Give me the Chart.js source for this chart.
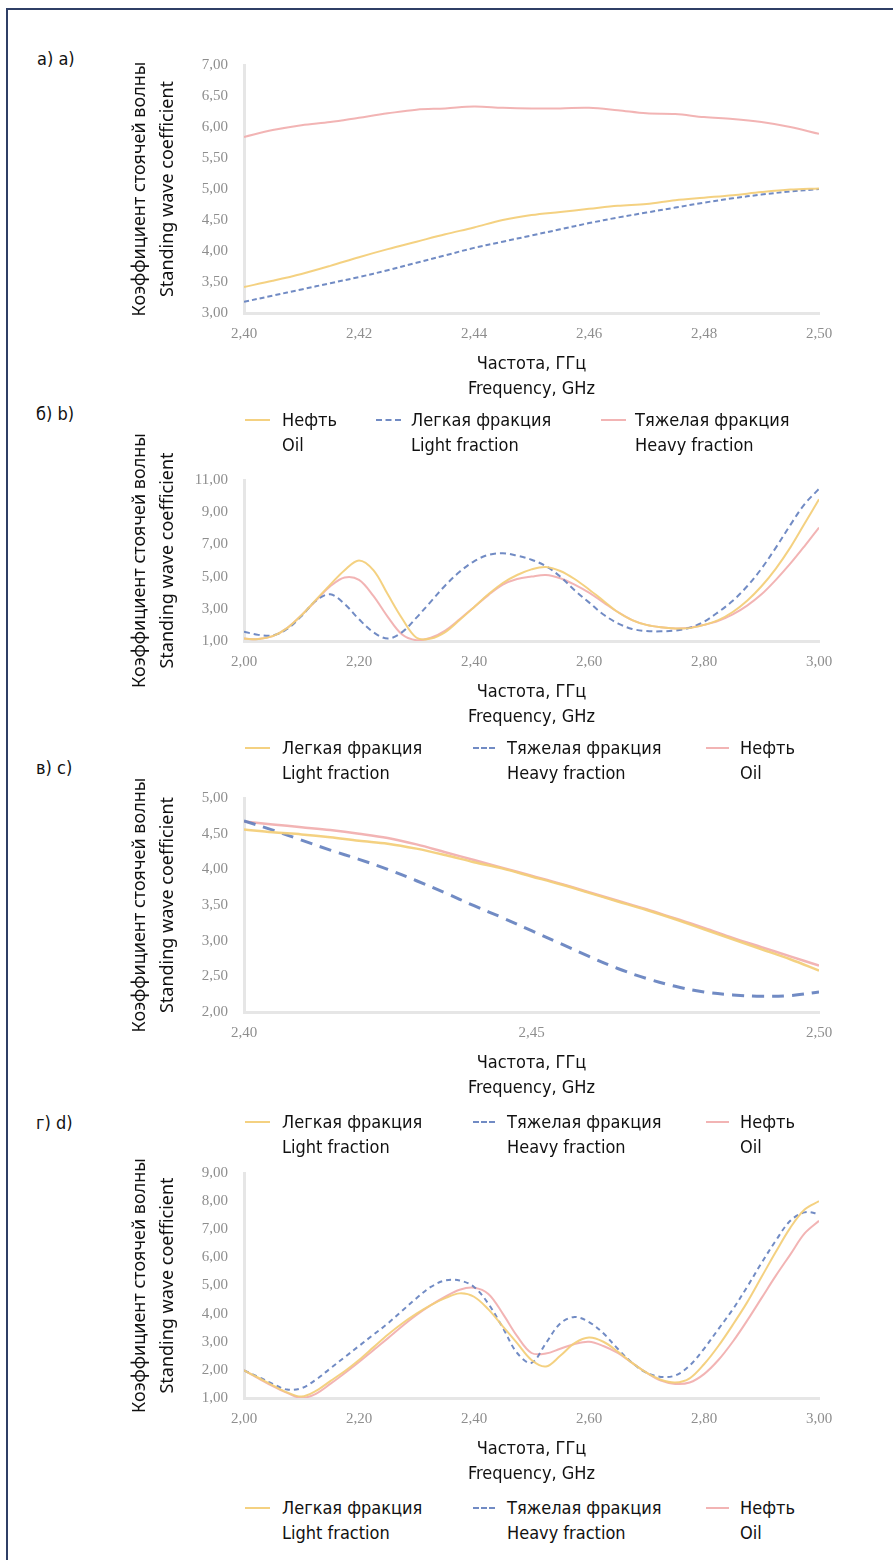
<!DOCTYPE html>
<html>
<head>
<meta charset="utf-8">
<script src="https://cdn.jsdelivr.net/npm/chart.js@4.4.1/dist/chart.umd.min.js"></script>
<style>
  body { margin: 0; background: #fff; }
  #page { position: relative; width: 893px; height: 1560px; overflow: hidden; background: #fff; }
  #frame { position: absolute; left: 6px; top: 8px; width: 1000px; height: 1700px;
           border-top: 2px solid #2f3f66; border-left: 2px solid #2f3f66; }
  canvas { position: absolute; }
  .txt { position: absolute; font-family: 'DejaVu Sans Condensed', 'Liberation Sans Narrow', sans-serif;
         font-size: 18px; line-height: 25px; color: #111; white-space: nowrap; }
  .swatch { position: absolute; height: 0; }
</style>
</head>
<body>
<div id="page">
  <div id="frame"></div>
  <canvas id="chartA" width="783" height="363" style="left:110px; top:40px;"></canvas>
  <canvas id="chartB" width="783" height="311" style="left:110px; top:420px;"></canvas>
  <canvas id="chartC" width="783" height="334" style="left:110px; top:768px;"></canvas>
  <canvas id="chartD" width="783" height="340" style="left:110px; top:1148px;"></canvas>
</div>
<script>
// Panel a) - frequency 2.40..2.50 GHz
const freqA = [2.400, 2.405, 2.410, 2.415, 2.420, 2.425, 2.430, 2.435, 2.440, 2.445, 2.450,
               2.455, 2.460, 2.465, 2.470, 2.475, 2.480, 2.485, 2.490, 2.495, 2.500];
const oilA   = [3.42, 3.52, 3.63, 3.76, 3.90, 4.03, 4.15, 4.27, 4.38, 4.50, 4.58,
                4.63, 4.68, 4.73, 4.76, 4.82, 4.86, 4.90, 4.95, 4.99, 5.01];
const lightA = [3.18, 3.28, 3.38, 3.48, 3.58, 3.69, 3.81, 3.93, 4.05, 4.15, 4.25,
                4.35, 4.45, 4.54, 4.62, 4.70, 4.78, 4.85, 4.91, 4.96, 5.00];
const heavyA = [5.84, 5.95, 6.03, 6.08, 6.15, 6.22, 6.28, 6.30, 6.33, 6.31, 6.30,
                6.30, 6.31, 6.27, 6.22, 6.21, 6.16, 6.13, 6.08, 6.00, 5.89];

// Panels b) and d) - frequency 2.00..3.00 GHz
const freqBD = [2.000, 2.025, 2.050, 2.075, 2.100, 2.125, 2.150, 2.175, 2.200, 2.225, 2.250,
                2.275, 2.300, 2.325, 2.350, 2.375, 2.400, 2.425, 2.450, 2.475, 2.500,
                2.525, 2.550, 2.575, 2.600, 2.625, 2.650, 2.675, 2.700, 2.725, 2.750,
                2.775, 2.800, 2.825, 2.850, 2.875, 2.900, 2.925, 2.950, 2.975, 3.000];
const lightB = [1.15, 1.12, 1.30, 1.80, 2.60, 3.55, 4.50, 5.40, 6.00, 5.40, 3.90,
                2.40, 1.20, 1.15, 1.55, 2.30, 3.10, 3.90, 4.60, 5.10, 5.45,
                5.60, 5.35, 4.85, 4.20, 3.50, 2.80, 2.30, 2.00, 1.85, 1.78,
                1.80, 2.00, 2.30, 2.80, 3.50, 4.40, 5.50, 6.80, 8.30, 9.80];
const heavyB = [1.58, 1.38, 1.35, 1.75, 2.55, 3.50, 3.90, 3.30, 2.35, 1.55, 1.15,
                1.55, 2.45, 3.45, 4.45, 5.30, 5.95, 6.35, 6.45, 6.30, 6.05,
                5.65, 5.00, 4.15, 3.40, 2.65, 2.10, 1.75, 1.62, 1.60, 1.65,
                1.82, 2.20, 2.80, 3.50, 4.40, 5.50, 6.80, 8.20, 9.50, 10.45];
const oilB   = [1.15, 1.12, 1.30, 1.80, 2.60, 3.50, 4.40, 4.95, 4.80, 3.80, 2.50,
                1.40, 1.05, 1.20, 1.65, 2.35, 3.10, 3.85, 4.50, 4.85, 5.00,
                5.10, 4.90, 4.50, 4.00, 3.40, 2.80, 2.30, 2.00, 1.85, 1.78,
                1.82, 2.00, 2.25, 2.65, 3.20, 3.90, 4.80, 5.80, 6.90, 8.05];

// Panel c) - frequency 2.40..2.50 GHz
const freqC = freqA;
const lightC = [4.56, 4.52, 4.49, 4.45, 4.40, 4.36, 4.29, 4.20, 4.10, 4.01, 3.90,
                3.79, 3.67, 3.55, 3.43, 3.30, 3.16, 3.02, 2.88, 2.74, 2.58];
const heavyC = [4.68, 4.55, 4.41, 4.27, 4.14, 4.00, 3.84, 3.67, 3.49, 3.32, 3.14,
                2.96, 2.78, 2.61, 2.47, 2.36, 2.28, 2.24, 2.22, 2.23, 2.28];
const oilC   = [4.67, 4.63, 4.59, 4.55, 4.50, 4.44, 4.35, 4.24, 4.13, 4.02, 3.91,
                3.80, 3.68, 3.56, 3.44, 3.31, 3.18, 3.04, 2.91, 2.78, 2.65];

// Panel d)
const lightD = [1.98, 1.72, 1.45, 1.20, 1.05, 1.25, 1.60, 1.95, 2.35, 2.80, 3.25,
                3.65, 4.00, 4.30, 4.55, 4.72, 4.60, 4.15, 3.55, 2.95, 2.35,
                2.12, 2.50, 2.95, 3.15, 3.00, 2.65, 2.25, 1.90, 1.65, 1.55,
                1.70, 2.20, 2.85, 3.60, 4.40, 5.30, 6.20, 7.05, 7.70, 8.00];
const heavyD = [1.98, 1.75, 1.50, 1.30, 1.35, 1.65, 2.05, 2.45, 2.85, 3.25, 3.65,
                4.10, 4.55, 4.95, 5.18, 5.18, 4.95, 4.35, 3.50, 2.60, 2.25,
                2.95, 3.65, 3.88, 3.70, 3.30, 2.75, 2.25, 1.90, 1.75, 1.80,
                2.15, 2.75, 3.45, 4.15, 4.95, 5.80, 6.60, 7.30, 7.60, 7.55];
const oilD   = [1.98, 1.70, 1.42, 1.18, 1.00, 1.15, 1.50, 1.88, 2.28, 2.70, 3.12,
                3.55, 3.95, 4.30, 4.60, 4.85, 4.92, 4.70, 4.00, 3.20, 2.60,
                2.58, 2.75, 2.92, 3.00, 2.85, 2.60, 2.25, 1.90, 1.62, 1.50,
                1.55, 1.85, 2.35, 3.00, 3.75, 4.55, 5.35, 6.10, 6.85, 7.30];

const lblOil = ['Нефть', 'Oil'];
const lblLight = ['Легкая фракция', 'Light fraction'];
const lblHeavy = ['Тяжелая фракция', 'Heavy fraction'];

const YELLOW = 'rgba(243, 207, 122, 0.95)';
const PINK = 'rgba(241, 172, 172, 0.9)';
const BLUE = 'rgba(98, 126, 190, 0.9)';

const fmt = v => v.toFixed(2).replace('.', ',');
const pts = (xs, ys) => xs.map((x, i) => ({ x: x, y: ys[i] }));

function makeChart(id, xs, series, xr, yr, padTop) {
    return new Chart(document.getElementById(id), {
        type: 'line',
        data: {
            datasets: series.map(s => ({
                label: s.label.join(' / '),
                data: pts(xs, s.values),
                borderColor: s.color,
                borderWidth: s.width || 2,
                borderDash: s.dash || [],
                pointRadius: 0,
                tension: 0.35,
                fill: false
            }))
        },
        options: {
            responsive: false,
            animation: false,
            layout: { padding: { top: padTop, right: 74, bottom: 0, left: 0 } },
            plugins: {
                legend: { display: false },
                tooltip: { enabled: false }
            },
            scales: {
                x: {
                    type: 'linear',
                    min: xr[0], max: xr[1],
                    ticks: {
                        stepSize: xr[2],
                        callback: fmt,
                        autoSkip: false,
                        maxRotation: 0,
                        padding: 12,
                        color: '#8e8e8e',
                        font: { family: 'Liberation Serif', size: 15 }
                    },
                    grid: { display: false, drawTicks: false },
                    border: { display: true, color: '#e6e6e6', width: 3 },
                    title: {
                        display: true,
                        text: ['Частота, ГГц', 'Frequency, GHz'],
                        color: '#111',
                        font: { family: 'DejaVu Sans Condensed', size: 18, lineHeight: 1.39 },
                        padding: { top: 0, bottom: 1 }
                    },
                    afterFit: s => { s.height = 90; }
                },
                y: {
                    min: yr[0], max: yr[1],
                    ticks: {
                        stepSize: yr[2],
                        callback: fmt,
                        padding: 16,
                        color: '#8e8e8e',
                        font: { family: 'Liberation Serif', size: 15 }
                    },
                    grid: { display: false, drawTicks: false },
                    border: { display: true, color: '#e6e6e6', width: 3 },
                    title: {
                        display: true,
                        text: ['Коэффициент стоячей волны', 'Standing wave coefficient'],
                        color: '#111',
                        font: { family: 'Noto Sans', size: 18, lineHeight: 1.55 },
                        padding: { top: 16, bottom: 0 }
                    },
                    afterFit: s => { s.width = 134; }
                }
            }
        }
    });
}

// HTML legend and panel letters (two-line labels)
const page = document.getElementById('page');
function addText(html, left, top) {
    const d = document.createElement('div');
    d.className = 'txt';
    d.innerHTML = html;
    d.style.left = left + 'px';
    d.style.top = top + 'px';
    page.appendChild(d);
}
function addLegend(series, rowY, slots) {
    series.forEach((s, i) => {
        const [x0, x1, tx] = slots[i];
        const sw = document.createElement('div');
        sw.className = 'swatch';
        sw.style.left = x0 + 'px';
        sw.style.top = (rowY - 1) + 'px';
        sw.style.width = (x1 - x0) + 'px';
        sw.style.borderTop = '2px ' + (s.dash ? 'dashed ' : 'solid ') + s.color;
        page.appendChild(sw);
        addText(s.label[0] + '<br>' + s.label[1], tx, rowY - 13);
    });
}

const seriesA = [
    { label: lblOil, values: oilA, color: YELLOW },
    { label: lblLight, values: lightA, color: BLUE, dash: [5, 3] },
    { label: lblHeavy, values: heavyA, color: PINK }
];
const seriesB = [
    { label: lblLight, values: lightB, color: YELLOW },
    { label: lblHeavy, values: heavyB, color: BLUE, dash: [6, 4] },
    { label: lblOil, values: oilB, color: PINK }
];
const seriesC = [
    { label: lblLight, values: lightC, color: YELLOW, width: 2.5 },
    { label: lblHeavy, values: heavyC, color: BLUE, dash: [12, 8], width: 3 },
    { label: lblOil, values: oilC, color: PINK, width: 2.5 }
];
const seriesD = [
    { label: lblLight, values: lightD, color: YELLOW },
    { label: lblHeavy, values: heavyD, color: BLUE, dash: [5, 4] },
    { label: lblOil, values: oilD, color: PINK }
];

makeChart('chartA', freqA, seriesA, [2.40, 2.50, 0.02], [3, 7, 0.5], 15);
makeChart('chartB', freqBD, seriesB, [2.00, 3.00, 0.2], [1, 11, 2], 60);
makeChart('chartC', freqC, seriesC, [2.40, 2.50, 0.05], [2, 5, 0.5], 30);
makeChart('chartD', freqBD, seriesD, [2.00, 3.00, 0.2], [1, 9, 1], 15);

const slotsA = [[245, 270, 282], [376, 401, 411], [601, 626, 635]];
const slotsB = [[245, 270, 282], [473, 495, 507], [706, 729, 740]];
addLegend(seriesA, 420, slotsA);
addLegend(seriesB, 748, slotsB);
addLegend(seriesC, 1122, slotsB);
addLegend(seriesD, 1508, slotsB);

addText('а) a)', 37, 46);
addText('б) b)', 36, 401);
addText('в) c)', 36, 755);
addText('г) d)', 36, 1110);
</script>
</body>
</html>
